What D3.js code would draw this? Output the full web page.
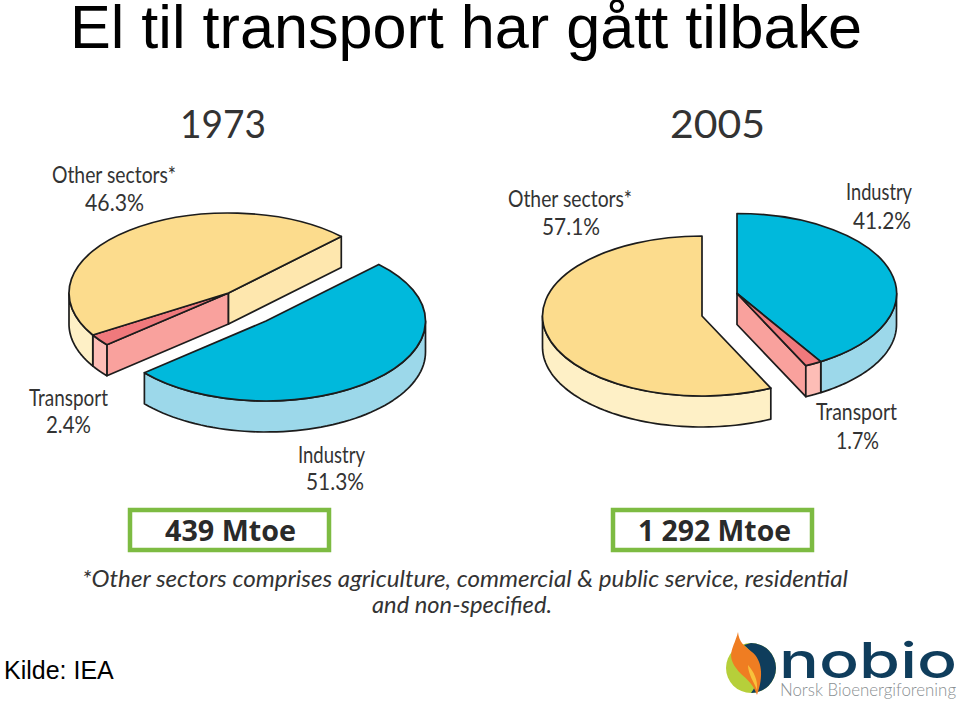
<!DOCTYPE html>
<html><head><meta charset="utf-8">
<style>html,body{margin:0;padding:0;background:#fff;overflow:hidden}svg{display:block}</style>
<script src="https://cdn.jsdelivr.net/npm/d3@7/dist/d3.min.js"></script>
</head><body><svg id="c" width="960" height="701"></svg>
<script>
// ---- data ----
const titleText = "El til transport har gått tilbake";
const sourceText = "Kilde: IEA";
const sectors = ["Industry", "Transport", "Other sectors*"];
const years = ["1973", "2005"];
const values1973 = [51.3, 2.4, 46.3];
const values2005 = [41.2, 1.7, 57.1];
const totals = ["439 Mtoe", "1 292 Mtoe"];
const footnoteLines = ["*Other sectors comprises agriculture, commercial & public service, residential", "and non-specified."];

// ---- style / layout ----
const topFill  = {"Industry":"#00b9dc","Transport":"#f0797c","Other sectors*":"#fcdc8d"};
const wallFill = {"Industry":"#9cd8ea","Transport":"#fdbdb6","Other sectors*":"#fef0c6"};
const faceFill = {"Industry":"#9cd8ea","Transport":"#f9a19d","Other sectors*":"#fee7ae"};
const RX = 159.5, RY = 80, DEPTH = 31;
const pies = [
  {values: values1973, startDeg: 45, centers: {"Industry":[266,321],"Transport":[228.5,293],"Other sectors*":[228.5,293]}},
  {values: values2005, startDeg: 0,  centers: {"Industry":[737,293.5],"Transport":[737,293.5],"Other sectors*":[702,316]}}
];
const labels = [
  ["Other sectors*",52,183,124],["46.3%",85,211,59],["Transport",29,406,79],["2.4%",46,433,45],
  ["Industry",298,463,67],["51.3%",306,490,58],
  ["Other sectors*",508,207,124],["57.1%",542,235,58],["Industry",846,200,66],["41.2%",853,229,58],
  ["Transport",816,420,81],["1.7%",836,449,43]
];
const yearPos = [[180,138,86],[670,138,95]];
const boxes = [[130,510,199,40,165,540.5,131],[613,510,199,40,638,540.5,153]];

const svg = d3.select("#c");
const sans = "'Liberation Sans',Arial,sans-serif";

svg.append("text").attr("x",70).attr("y",48).attr("font-family",sans).attr("font-size",61)
  .attr("textLength",792).attr("lengthAdjust","spacingAndGlyphs").attr("fill","#000").text(titleText);
svg.append("text").attr("x",4).attr("y",679).attr("font-family",sans).attr("font-size",25)
  .attr("fill","#000").text(sourceText);

const arc = d3.arc().innerRadius(0).outerRadius(RX);
const ink = "#1c1c1c", inkW = 1.7;

pies.forEach(p => {
  const start = p.startDeg*Math.PI/180;
  const arcs = d3.pie().sort(null).startAngle(start).endAngle(start+2*Math.PI)
    .value(d=>d.v)(p.values.map((v,i)=>({v,name:sectors[i]})));
  const g = svg.append("g");
  const pt = (c,a,dz=0)=>[c[0]+RX*Math.sin(a), c[1]-RY*Math.cos(a)+dz];
  arcs.forEach((s,i)=>{
    const name = s.data.name, c = p.centers[name];
    const same = (a,b)=>p.centers[a][0]===p.centers[b][0] && p.centers[a][1]===p.centers[b][1];
    const prev = arcs[(i+arcs.length-1)%arcs.length].data.name;
    const next = arcs[(i+1)%arcs.length].data.name;
    const face = a=>{
      const e = pt(c,a);
      g.append("path").attr("d",d3.line()([c,e,[e[0],e[1]+DEPTH],[c[0],c[1]+DEPTH]])+"Z")
        .attr("fill",faceFill[name]).attr("stroke",ink).attr("stroke-width",inkW).attr("stroke-linejoin","round");
    };
    if(!same(name,prev) && Math.sin(s.startAngle)<-1e-6) face(s.startAngle);
    if(!same(name,next) && Math.sin(s.endAngle)>1e-6) face(s.endAngle);
    const segs = [];
    for(const k of [0,2]){
      const lo=Math.max(s.startAngle,Math.PI/2+k*Math.PI), hi=Math.min(s.endAngle,3*Math.PI/2+k*Math.PI);
      if(hi>lo) segs.push([lo,hi]);
    }
    segs.forEach(([lo,hi])=>{
      const ang=d3.range(0,61).map(j=>lo+(hi-lo)*j/60);
      const poly=ang.map(a=>pt(c,a)).concat(ang.slice().reverse().map(a=>pt(c,a,DEPTH)));
      g.append("path").attr("d",d3.line()(poly)+"Z").attr("fill",wallFill[name])
        .attr("stroke",ink).attr("stroke-width",inkW).attr("stroke-linejoin","round");
    });
  });
  arcs.forEach(s=>{
    const c = p.centers[s.data.name];
    g.append("path").attr("d",arc(s))
      .attr("transform",`translate(${c[0]},${c[1]}) scale(1,${RY/RX})`)
      .attr("fill",topFill[s.data.name]).attr("stroke",ink).attr("stroke-width",inkW)
      .attr("stroke-linejoin","round").style("vector-effect","non-scaling-stroke");
  });
});

const labelFont = "Lato,'Open Sans',sans-serif";
svg.append("g").selectAll("text").data(labels).join("text")
  .attr("x",d=>d[1]).attr("y",d=>d[2]).attr("textLength",d=>d[3]).attr("lengthAdjust","spacingAndGlyphs")
  .attr("font-family",labelFont).attr("font-size",24).attr("fill","#333").text(d=>d[0]);

svg.append("g").selectAll("text").data(years).join("text")
  .attr("x",(d,i)=>yearPos[i][0]).attr("y",(d,i)=>yearPos[i][1]).attr("textLength",(d,i)=>yearPos[i][2])
  .attr("lengthAdjust","spacingAndGlyphs").attr("font-family",labelFont).attr("font-size",38)
  .attr("fill","#333").text(d=>d);

boxes.forEach((b,i)=>{
  svg.append("rect").attr("x",b[0]).attr("y",b[1]).attr("width",b[2]).attr("height",b[3])
    .attr("fill","#fff").attr("stroke","#7dbb42").attr("stroke-width",4.5);
  svg.append("text").attr("x",b[4]).attr("y",b[5]).attr("textLength",b[6]).attr("lengthAdjust","spacingAndGlyphs")
    .attr("font-family","'Open Sans',sans-serif").attr("font-weight",700).attr("font-size",28)
    .attr("fill","#2a2a2a").text(totals[i]);
});

svg.append("text").attr("x",82).attr("y",587).attr("textLength",766).attr("lengthAdjust","spacingAndGlyphs")
  .attr("font-family",labelFont).attr("font-style","italic").attr("font-size",23).attr("fill","#333").text(footnoteLines[0]);
svg.append("text").attr("x",372).attr("y",613).attr("textLength",180).attr("lengthAdjust","spacingAndGlyphs")
  .attr("font-family",labelFont).attr("font-style","italic").attr("font-size",23).attr("fill","#333").text(footnoteLines[1]);

// logo
const logo = svg.append("g");
logo.append("circle").attr("cx",751).attr("cy",668).attr("r",25).attr("fill","#b6cf3a");
logo.append("path").attr("d","M751,643A25,25 0 0 1 751,693C761,680 762,660 744,645Z").attr("fill","#0f3d5c");
logo.append("path").attr("d","M738,632C734,648 726,654 736,668C742,677 752,680 757,695C764,676 762,660 752,652C744,646 739,642 738,632Z").attr("fill","#ef7d22");
logo.append("path").attr("d","M748,665C754,672 758,680 757,690C754,682 748,674 748,665Z").attr("fill","#f7c23c");
logo.append("text").attr("x",779).attr("y",678).attr("textLength",178).attr("lengthAdjust","spacingAndGlyphs")
  .attr("font-family","Inter,Lato,sans-serif").attr("font-weight",500).attr("font-size",50).attr("fill","#0f3d5c").text("nobio");
logo.append("text").attr("x",780).attr("y",696).attr("textLength",176).attr("lengthAdjust","spacingAndGlyphs")
  .attr("font-family",labelFont).attr("font-weight",300).attr("font-size",17).attr("fill","#8a8f92").text("Norsk Bioenergiforening");
</script></body></html>
